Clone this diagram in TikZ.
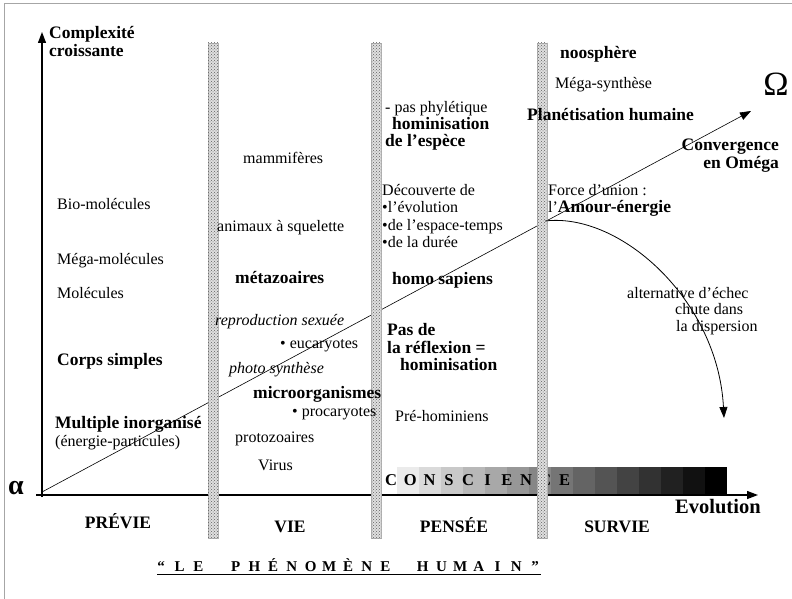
\documentclass[tikz,border=0pt]{standalone}
\usepackage{fontspec}
\setmainfont{Liberation Serif}
\usetikzlibrary{arrows.meta,patterns}

\begin{document}
\begin{tikzpicture}[x=1pt,y=-1pt,>={Triangle[length=11pt,width=8pt]},lab/.style={anchor=west, inner sep=0pt, text height=11pt, text depth=3.5pt, font=\fontsize{16}{17.6}\selectfont},labb/.style={lab, font=\bfseries\fontsize{17.5}{17.6}\selectfont},labi/.style={lab, font=\itshape\fontsize{16}{17.6}\selectfont},era/.style={anchor=base, inner sep=0pt, font=\bfseries\fontsize{17.5}{18}\selectfont},divider/.style={draw=gray!60, line width=0.4pt, fill=gray!25, postaction={pattern=crosshatch dots, pattern color=gray!75!black}},spaced/.style={anchor=base, inner sep=0pt, font=\bfseries\fontsize{15}{15}\selectfont}]
\useasboundingbox (0,0) rectangle (792,599);
\draw[gray!70, line width=1pt] (792,4) -- (4,4) -- (4,599);
% axes, conscience bar and the line from alpha to omega
\coordinate (o) at (42,497);\coordinate (ytop) at (42,32);\coordinate (xstart) at (36,495);\coordinate (xend) at (758,495);
\coordinate (a0) at (42,492);\coordinate (w0) at (751,111);\coordinate (split) at (545,221);\coordinate (fall) at (724,418);
\foreach \i [evaluate=\i as \k using 8+\i*92/14] in {0,...,14}\fill[black!\k] (397+22*\i,467) rectangle +(22,27);
\foreach \c [count=\i from 0] in {C,O,N,S,C,I,E,N,C,E}\node[spaced, font=\bfseries\fontsize{16.5}{16}\selectfont] (cs\i) at (391+19.3*\i,485) {\c};
\draw[->, line width=1.3pt] (o) -- (ytop);\draw[->, line width=1.3pt] (xstart) -- (xend);
\draw[->, line width=0.6pt] (a0) -- (w0);
\foreach \x in {208,371,537}\draw[divider] (\x,43) rectangle +(10,495);
\draw[->, line width=0.8pt] (split) .. controls (620,212) and (718,300) .. (fall);
\node[inner sep=0pt, font=\bfseries\fontsize{28}{28}\selectfont] (alpha) at (16,488) {α};\node[inner sep=0pt, font=\fontsize{34}{34}\selectfont] (omega) at (776,84) {Ω};
\node[labb] (complex) at (49,35) {Complexité};\node[labb] (croiss) at (49,53) {croissante};\node[lab, font=\bfseries\fontsize{20.5}{21}\selectfont] (evol) at (675,510) {Evolution};
% previe
\node[lab] (biomol) at (57,206) {Bio-molécules};\node[lab] (megamol) at (57,261) {Méga-molécules};\node[lab] (mol) at (57,295) {Molécules};
\node[labb] (corps) at (57,362) {Corps simples};\node[labb] (multiple) at (55,425) {Multiple inorganisé};\node[lab] (energie) at (55,443) {(énergie-particules)};
% vie
\node[lab] (mammif) at (243,160) {mammifères};\node[lab] (squelette) at (217,228) {animaux à squelette};\node[labb] (metazo) at (235,280) {métazoaires};
\node[labi] (repro) at (215,322) {reproduction sexuée};\node[lab] (eucar) at (280,345) {• eucaryotes};
\node[labi] (photo) at (229,370) {photo synthèse};\node[labb] (microorg) at (253,395) {microorganismes};\node[lab] (procar) at (292,413) {• procaryotes};
\node[lab] (protozo) at (235,439) {protozoaires};\node[lab] (virus) at (258,467) {Virus};
% pensee
\node[lab] (phyl) at (385,109) {- pas phylétique};\node[labb] (homin) at (392,126) {hominisation};\node[labb] (espece) at (385,143) {de l’espèce};
\node[lab] (decouv) at (382,192) {Découverte de};\node[lab] (evolu) at (382,209) {•l’évolution};\node[lab] (espace) at (382,227) {•de l’espace-temps};\node[lab] (duree) at (382,244) {•de la durée};
\node[labb] (sapiens) at (392,281) {homo sapiens};\node[labb] (pasde) at (387,332) {Pas de};\node[labb] (reflex) at (387,350) {la réflexion =};\node[labb] (homin2) at (400,367) {hominisation};
\node[lab] (prehom) at (395,418) {Pré-hominiens};
% survie
\node[labb] (noos) at (560,55) {noosphère};\node[lab] (megasyn) at (555,85) {Méga-synthèse};\node[labb] (planet) at (527,117) {Planétisation humaine};
\node[labb, anchor=east] (converg) at (779,147) {Convergence};\node[labb, anchor=east] (enomega) at (779,165) {en Oméga};
\node[lab] (force) at (548,192) {Force d’union :};\node[lab] (amour) at (548,209) {l’\textbf{\fontsize{17.5}{17.6}\selectfont Amour-énergie}};
\node[lab] (alter) at (627,295) {alternative d’échec};\node[lab] (chute) at (675,311) {chute dans};\node[lab] (dispers) at (676,328) {la dispersion};
% eras
\node[era] (previe) at (118,528) {PRÉVIE};\node[era] (vie) at (290,532) {VIE};\node[era] (pensee) at (454,532) {PENSÉE};\node[era] (survie) at (617,532) {SURVIE};
% title
\foreach \c/\k in {“/0,L/1,E/2,P/4,H/5,É/6,N/7,O/8,M/9,È/10,N/11,E/12,H/14,U/15,M/16,A/17,I/18,N/19,”/20}\node[spaced] (ti\k) at (161+18.7*\k,571) {\c};
\draw[line width=0.8pt] (157,574.5) -- (541,574.5);
\end{tikzpicture}
\end{document}
